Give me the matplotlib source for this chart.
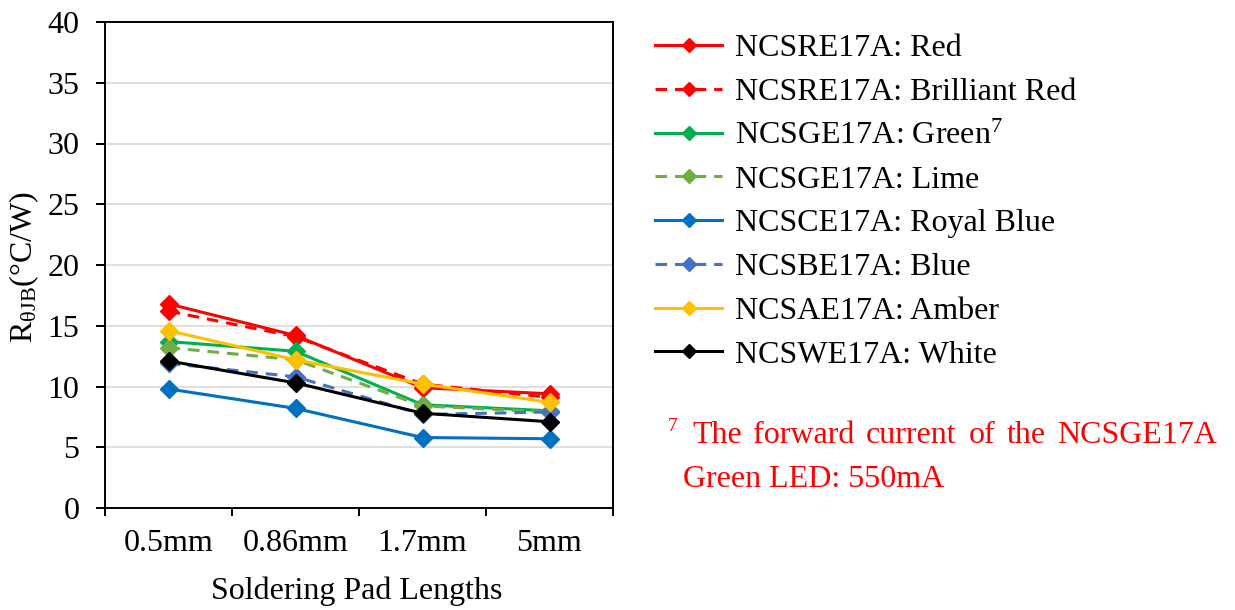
import matplotlib
matplotlib.use("Agg")
import matplotlib.pyplot as plt
from matplotlib.ticker import FixedLocator, NullFormatter, FixedFormatter

plt.rcParams['font.family'] = ['Liberation Serif', 'DejaVu Serif']
plt.rcParams['mathtext.fontset'] = 'custom'
plt.rcParams['mathtext.rm'] = 'Liberation Serif'
plt.rcParams['mathtext.it'] = 'Liberation Serif:italic'

categories = ["0.5mm", "0.86mm", "1.7mm", "5mm"]
labels = ["NCSRE17A: Red", "NCSRE17A: Brilliant Red", "NCSGE17A: Green$^{7}$",
          "NCSGE17A: Lime", "NCSCE17A: Royal Blue", "NCSBE17A: Blue",
          "NCSAE17A: Amber", "NCSWE17A: White"]
red = [16.8, 14.2, 9.9, 9.4]
brilliant_red = [16.2, 14.1, 10.2, 9.1]
green = [13.7, 12.9, 8.5, 8.0]
lime = [13.2, 12.2, 8.4, 7.9]
royal_blue = [9.8, 8.2, 5.8, 5.7]
blue = [11.9, 10.8, 7.7, 7.9]
amber = [14.6, 12.2, 10.2, 8.7]
white = [12.1, 10.3, 7.8, 7.1]
series = [red, brilliant_red, green, lime, royal_blue, blue, amber, white]
colors = ["#FF0000", "#FF0000", "#00B050", "#70AD47", "#0070C0", "#4472C4", "#FFC000", "#000000"]
dashed = [False, True, False, True, False, True, False, False]
y_ticks = [0, 5, 10, 15, 20, 25, 30, 35, 40]

FS = 23
W, H = 1235, 610
fig = plt.figure(figsize=(W / 100, H / 100), dpi=100)
ax = fig.add_axes([105 / W, 102 / H, 508 / W, 486 / H])

x = list(range(len(categories)))
handles = []
for vals, c, d, lab in zip(series, colors, dashed, labels):
    ls = (0, (3.8, 2.6)) if d else '-'
    ln, = ax.plot(x, vals, color=c, lw=2.2, ls=ls, marker='D', ms=9,
                  mec=c, mfc=c, label=lab, zorder=3)
    handles.append(ln)

ax.set_xlim(-0.5, 3.5)
ax.set_ylim(0, 40)
ax.set_yticks(y_ticks)
ax.yaxis.grid(True, color='#D9D9D9', lw=1.2, zorder=0)
ax.set_axisbelow(True)
for s in ax.spines.values():
    s.set_color('black')
    s.set_linewidth(1.4)

ax.xaxis.set_major_locator(FixedLocator([-0.5, 0.5, 1.5, 2.5, 3.5]))
ax.xaxis.set_major_formatter(NullFormatter())
ax.xaxis.set_minor_locator(FixedLocator(x))
ax.xaxis.set_minor_formatter(FixedFormatter(categories))
ax.tick_params(axis='x', which='major', direction='out', length=5.5, width=1.4, color='black')
ax.tick_params(axis='x', which='minor', length=0, pad=15, labelsize=FS)
ax.tick_params(axis='y', direction='out', length=6.5, width=1.4, pad=12, labelsize=FS)

fig.text(357 / W, 1 - 599 / H, "Soldering Pad Lengths", ha='center', va='baseline', fontsize=FS)
fig.text(24 / W, 1 - 267 / H, r"$\mathregular{R_{\theta JB}}$(°C/W)", rotation=90,
         ha='center', va='center', fontsize=FS)

leg = fig.legend(handles=handles, loc='upper left', bbox_to_anchor=(655 / W, 1 - 34 / H),
                 frameon=False, fontsize=FS, handlelength=2.1, handletextpad=0.4,
                 labelspacing=0.45, markerscale=0.8, borderaxespad=0, borderpad=0)

# footnote
fig.text(668 / W, 1 - 418 / H, "7", color='#FF0000', fontsize=14, ha='left', va='top')
words = ["The", "forward", "current", "of", "the", "NCSGE17A"]
word_x = [692, 753.4, 866.2, 968.4, 1006.7, 1057.4]
for w, xx in zip(words, word_x):
    fig.text(xx / W, 1 - 443 / H, w, color='#FF0000', fontsize=FS, ha='left', va='baseline')
fig.text(683 / W, 1 - 487 / H, "Green LED: 550mA", color='#FF0000', fontsize=FS,
         ha='left', va='baseline')

fig.savefig("out.png", dpi=100)
